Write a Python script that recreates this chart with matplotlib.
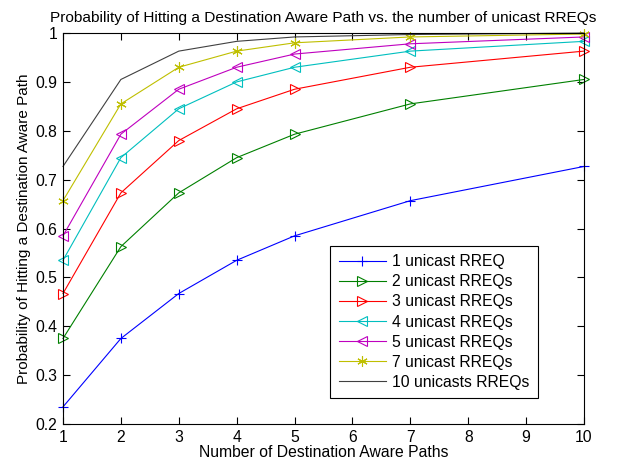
import matplotlib
matplotlib.use("Agg")
import matplotlib.pyplot as plt

plt.rcParams['font.family'] = ['Liberation Sans', 'DejaVu Sans']

# data
paths = [1, 2, 3, 4, 5, 7, 10]
labels = ["1 unicast RREQ", "2 unicast RREQs", "3 unicast RREQs", "4 unicast RREQs",
          "5 unicast RREQs", "7 unicast RREQs", "10 unicasts RREQs"]
p1 = [0.235, 0.375, 0.467, 0.535, 0.585, 0.657, 0.727]
p2 = [0.375, 0.563, 0.673, 0.745, 0.793, 0.855, 0.905]
p3 = [0.467, 0.673, 0.780, 0.845, 0.885, 0.930, 0.963]
p4 = [0.535, 0.745, 0.845, 0.900, 0.930, 0.963, 0.983]
p5 = [0.585, 0.793, 0.885, 0.930, 0.957, 0.978, 0.992]
p7 = [0.657, 0.855, 0.930, 0.963, 0.980, 0.992, 0.998]
p10 = [0.727, 0.905, 0.963, 0.983, 0.992, 0.997, 1.000]
series = [p1, p2, p3, p4, p5, p7, p10]

colors = ['#0000ff', '#008000', '#ff0000', '#00bfbf', '#bf00bf', '#bfbf00', '#404040']
markers = ['+', '>', '>', '<', '<', (6, 2, 0), None]

FS = 11.3

fig = plt.figure(figsize=(6.23, 4.66), dpi=100)
ax = fig.add_axes([0.1011, 0.0901, 0.8363, 0.839])

for vals, lab, c, m in zip(series, labels, colors, markers):
    ax.plot(paths, vals, color=c, marker=m, markersize=7.5, markerfacecolor='none',
            markeredgecolor=c, markeredgewidth=0.8, linewidth=0.8, label=lab,
            clip_on=False)

ax.set_xlim(1, 10)
ax.set_ylim(0.2, 1.0)
ax.set_xticks(range(1, 11))
ax.set_yticks([0.2, 0.3, 0.4, 0.5, 0.6, 0.7, 0.8, 0.9, 1.0])
ax.set_yticklabels(['0.2', '0.3', '0.4', '0.5', '0.6', '0.7', '0.8', '0.9', '1'])
ax.tick_params(direction='in', top=True, right=True, labelsize=FS, length=5, pad=4)
for s in ax.spines.values():
    s.set_linewidth(0.8)

ax.set_title("Probability of Hitting a Destination Aware Path vs. the number of unicast RREQs",
             fontsize=11.1, pad=8)
ax.set_xlabel("Number of Destination Aware Paths", fontsize=FS, labelpad=0)
ax.set_ylabel("Probability of Hitting a Destination Aware Path", fontsize=11, labelpad=3)

leg = ax.legend(loc='lower right', bbox_to_anchor=(0.912, 0.066), borderaxespad=0,
                fontsize=FS, fancybox=False, edgecolor='black', framealpha=1,
                borderpad=0.55, labelspacing=0.32, handlelength=3.0, handletextpad=0.4)
leg.get_frame().set_linewidth(0.8)

fig.savefig("out.png", dpi=100)
